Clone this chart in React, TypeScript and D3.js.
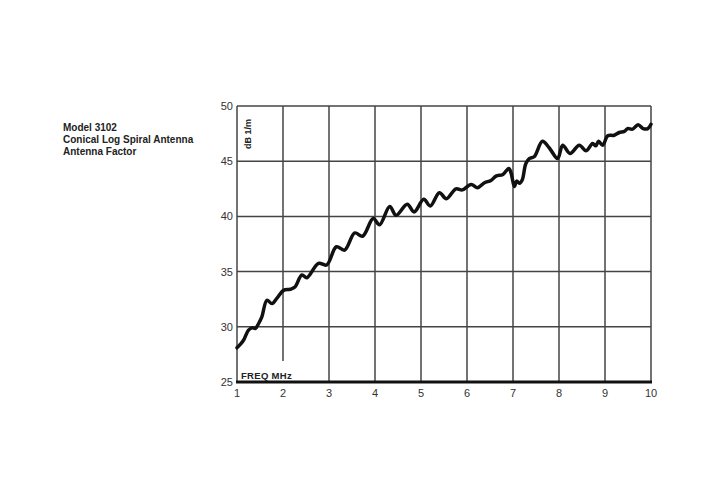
import React from "react";
import * as d3 from "d3";

const titleLines = ["Model 3102", "Conical Log Spiral Antenna", "Antenna Factor"];
const xTicks = [1, 2, 3, 4, 5, 6, 7, 8, 9, 10];
const yTicks = [25, 30, 35, 40, 45, 50];
const freq = [1.0, 1.07, 1.145, 1.25, 1.33, 1.4, 1.47, 1.54, 1.65, 1.76, 1.87, 2.01, 2.16, 2.26, 2.41, 2.52, 2.77, 2.95, 3.16, 3.34, 3.56, 3.73, 3.96, 4.1, 4.32, 4.46, 4.7, 4.85, 5.06, 5.2, 5.4, 5.55, 5.76, 5.9, 6.09, 6.23, 6.38, 6.52, 6.63, 6.78, 6.91, 6.96, 7.03, 7.08, 7.14, 7.2, 7.28, 7.36, 7.46, 7.64, 7.79, 7.97, 8.08, 8.24, 8.44, 8.59, 8.73, 8.8, 8.86, 8.95, 9.06, 9.2, 9.31, 9.42, 9.49, 9.6, 9.72, 9.83, 9.93, 10.0];
const dbValues = [28.1, 28.4, 28.8, 29.7, 29.9, 29.85, 30.3, 30.9, 32.4, 32.1, 32.6, 33.3, 33.4, 33.6, 34.7, 34.45, 35.75, 35.6, 37.25, 36.95, 38.5, 38.2, 39.8, 39.25, 40.9, 40.1, 41.1, 40.4, 41.55, 40.95, 42.15, 41.6, 42.5, 42.4, 42.9, 42.6, 43.05, 43.25, 43.65, 43.8, 44.35, 43.9, 42.7, 43.2, 43.0, 43.3, 44.8, 45.25, 45.4, 46.8, 46.2, 45.25, 46.45, 45.7, 46.45, 45.95, 46.6, 46.4, 46.8, 46.45, 47.3, 47.35, 47.6, 47.7, 47.95, 47.9, 48.3, 47.95, 47.95, 48.35];

const xScale = d3.scaleLinear().domain([1, 10]).range([237, 651]);
const yScale = d3.scaleLinear().domain([25, 50]).range([382, 106]);

export default function App() {
  const pts: [number, number][] = freq.map((f, i) => [f, dbValues[i]]);
  const line = d3
    .line<[number, number]>()
    .x((d) => xScale(d[0]))
    .y((d) => yScale(d[1]))
    .curve(d3.curveCatmullRom.alpha(0.5));
  const font = "'Liberation Sans', Arial, sans-serif";
  return (
    <svg
      width={720}
      height={500}
      style={{ position: "absolute", left: 0, top: 0, background: "#fff" }}
      fontFamily={font}
    >
      {titleLines.map((t, i) => (
        <text key={t} x={63} y={131 + i * 12} fontSize={10} fontWeight="bold" fill="#222">
          {t}
        </text>
      ))}
      {/* horizontal grid */}
      {yTicks.filter((v) => v > 25).map((v) => (
        <line key={"h" + v} x1={xScale(1)} x2={xScale(10)} y1={yScale(v)} y2={yScale(v)} stroke="#444" strokeWidth={1.5} />
      ))}
      {/* vertical grid */}
      {xTicks.map((f) => (
        <line
          key={"v" + f}
          x1={xScale(f)}
          x2={xScale(f)}
          y1={yScale(50)}
          y2={f === 2 ? 361 : yScale(25)}
          stroke="#444"
          strokeWidth={1.5}
        />
      ))}
      <line x1={xScale(1) - 1} x2={xScale(10) + 1} y1={yScale(25)} y2={yScale(25)} stroke="#111" strokeWidth={3} />
      {yTicks.map((v) => (
        <text key={"yl" + v} x={233} y={yScale(v) + 4} fontSize={11} textAnchor="end" fill="#333">
          {v}
        </text>
      ))}
      {xTicks.map((f) => (
        <text key={"xl" + f} x={xScale(f)} y={397} fontSize={11} textAnchor="middle" fill="#333">
          {f}
        </text>
      ))}
      <text x={241} y={379} fontSize={9.5} fontWeight="bold" fill="#222" letterSpacing={0.3}>
        FREQ  MHz
      </text>
      <text
        transform={`translate(251,134) rotate(-90)`}
        fontSize={9}
        fontWeight="bold"
        textAnchor="middle"
        fill="#222"
      >
        dB 1/m
      </text>
      <path d={line(pts) || ""} fill="none" stroke="#111" strokeWidth={3.5} strokeLinejoin="round" strokeLinecap="round" />
    </svg>
  );
}
